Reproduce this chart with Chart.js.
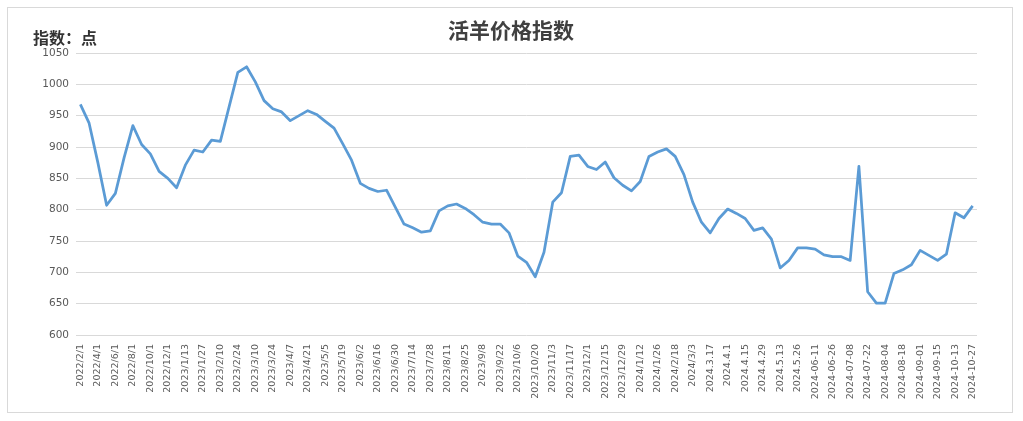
<!DOCTYPE html>
<html>
<head>
<meta charset="utf-8">
<script src="https://cdn.jsdelivr.net/npm/chart.js@4/dist/chart.umd.min.js"></script>
<style>
  html, body { margin: 0; padding: 0; background: #fff; overflow: hidden; }
  #wrap { width: 1023px; height: 421px; position: relative; }
</style>
</head>
<body>
<div id="wrap"><canvas id="chart"></canvas></div>
<script>
// tick labels shown on the x axis (one every second data point)
const TICK_LABELS = [
  "2022/2/1", "2022/4/1", "2022/6/1", "2022/8/1", "2022/10/1", "2022/12/1",
  "2023/1/13", "2023/1/27", "2023/2/10", "2023/2/24", "2023/3/10", "2023/3/24",
  "2023/4/7", "2023/4/21", "2023/5/5", "2023/5/19", "2023/6/2", "2023/6/16",
  "2023/6/30", "2023/7/14", "2023/7/28", "2023/8/11", "2023/8/25", "2023/9/8",
  "2023/9/22", "2023/10/6", "2023/10/20", "2023/11/3", "2023/11/17", "2023/12/1",
  "2023/12/15", "2023/12/29", "2024/1/12", "2024/1/26", "2024/2/18", "2024/3/3",
  "2024.3.17", "2024.4.1", "2024.4.15", "2024.4.29", "2024.5.13", "2024.5.26",
  "2024-06-11", "2024-06-26", "2024-07-08", "2024-07-22", "2024-08-04", "2024-08-18",
  "2024-09-01", "2024-09-15", "2024-10-13", "2024-10-27",
];

// 活羊价格指数 (点)
const INDEX_VALUES = [
  968, 938, 875, 807, 826, 883, 934, 904, 889, 861,
  850, 835, 871, 895, 892, 911, 909, 964, 1019, 1028,
  1004, 974, 961, 956, 942, 950, 958, 952, 941, 930,
  905, 879, 842, 834, 829, 831, 804, 777, 771, 764,
  766, 798, 806, 809, 802, 792, 780, 777, 777, 763,
  726, 716, 693, 732, 812, 827, 885, 887, 869, 864,
  876, 851, 839, 830, 845, 885, 892, 897, 885, 856,
  812, 780, 763, 786, 801, 794, 786, 767, 771, 753,
  707, 719, 739, 739, 737, 728, 725, 725, 719, 869,
  669, 651, 651, 698, 704, 712, 735, 727, 719, 729,
  795, 787, 806,
];

const Y_MIN = 600;
const Y_MAX = 1050;
const Y_STEP = 50;

// every point gets a category; only every second one carries a label
const categorias = INDEX_VALUES.map((_, i) => (i % 2 === 0 ? TICK_LABELS[i / 2] || "" : ""));

const textos = {
  id: "textos",
  beforeDraw(chart) {
    const ctx = chart.ctx;
    ctx.save();
    ctx.fillStyle = "#fff";
    ctx.fillRect(0, 0, chart.width, chart.height);
    ctx.strokeStyle = "#d9d9d9";
    ctx.lineWidth = 1;
    ctx.strokeRect(7.5, 7.5, 1005, 405);
    ctx.restore();
  },
  afterDraw(chart) {
    const ctx = chart.ctx;
    ctx.save();
    ctx.textBaseline = "middle";
    ctx.fillStyle = "#404040";
    ctx.font = "bold 21px 'Noto Sans CJK SC', sans-serif";
    ctx.textAlign = "center";
    ctx.fillText("活羊价格指数", 511, 30);
    ctx.fillStyle = "#333";
    ctx.font = "bold 16px 'Noto Sans CJK SC', sans-serif";
    ctx.textAlign = "left";
    ctx.fillText("指数：点", 33, 38);
    ctx.restore();
  },
};

new Chart(document.getElementById("chart"), {
  type: "line",
  data: {
    labels: categorias,
    datasets: [{
      label: "活羊价格指数",
      data: INDEX_VALUES,
      borderColor: "#5B9BD5",
      borderWidth: 2.75,
      pointRadius: 0,
      tension: 0,
      borderJoinStyle: "round",
      fill: false,
    }],
  },
  options: {
    responsive: true,
    maintainAspectRatio: false,
    animation: false,
    layout: { padding: { left: 10, right: 46, top: 53, bottom: 10 } },
    plugins: {
      legend: { display: false },
      tooltip: { enabled: false },
      title: { display: false },
    },
    scales: {
      x: {
        type: "category",
        offset: true,
        grid: { display: false, drawTicks: false },
        border: { display: false },
        afterFit: (s) => { s.height = 76; },
        ticks: {
          autoSkip: false,
          minRotation: 90,
          maxRotation: 90,
          padding: 9,
          color: "#595959",
          font: { family: "DejaVu Sans", size: 9.5 },
          callback: function (v) { return this.getLabelForValue(v); },
        },
      },
      y: {
        min: Y_MIN,
        max: Y_MAX,
        grid: { color: "#d9d9d9", drawTicks: false },
        border: { display: false },
        afterFit: (s) => { s.width = 66; },
        ticks: {
          stepSize: Y_STEP,
          padding: 7,
          color: "#595959",
          font: { family: "DejaVu Sans", size: 10.5 },
          callback: (v) => String(v),
        },
      },
    },
  },
  plugins: [textos],
});
</script>
</body>
</html>
